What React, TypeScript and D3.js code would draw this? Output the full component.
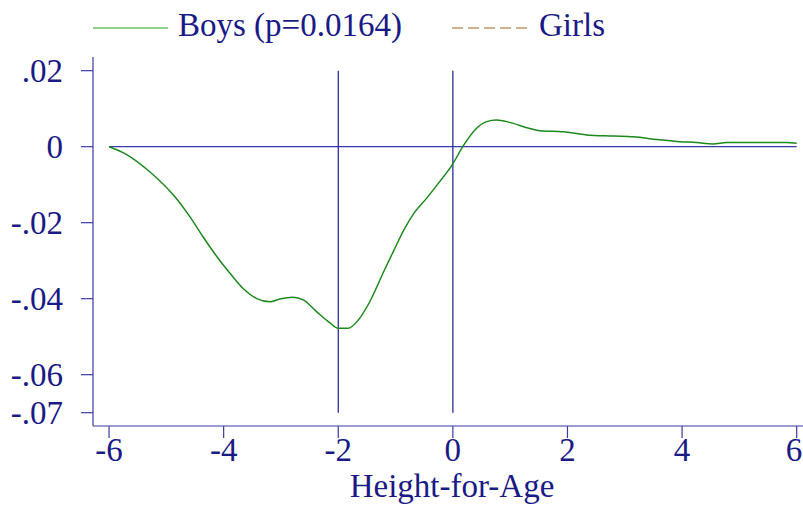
import React from "react";
import * as d3 from "d3";

// Height-for-age z-score (x) vs. estimated difference (y) for boys
const boysX = [
  -6.0, -5.7, -5.29, -4.85, -4.59, -4.36, -4.12, -3.89, -3.66, -3.43, -3.19, -3.02,
  -2.79, -2.61, -2.38, -2.15, -2.0, -1.83, -1.65, -1.45, -1.22, -1.04, -0.84, -0.66,
  -0.46, -0.23, -0.02, 0.18, 0.41, 0.59, 0.76, 0.99, 1.29, 1.52, 1.93, 2.33, 2.8,
  3.15, 3.56, 3.96, 4.25, 4.54, 4.78, 5.3, 5.82, 6.0,
];
const boysY = [
  0.0, -0.002, -0.0066, -0.0132, -0.0184, -0.0237, -0.0289, -0.0333, -0.0373, -0.0399,
  -0.0408, -0.0401, -0.0396, -0.0403, -0.0434, -0.0463, -0.0478, -0.0478, -0.0456,
  -0.0408, -0.0333, -0.0276, -0.0215, -0.0171, -0.0136, -0.0092, -0.005, 0.0002,
  0.0048, 0.0066, 0.007, 0.0064, 0.005, 0.0042, 0.0039, 0.0031, 0.0028, 0.0026,
  0.0019, 0.0013, 0.0011, 0.0007, 0.0011, 0.0011, 0.0011, 0.0009,
];

const xTicks = [-6, -4, -2, 0, 2, 4, 6];
const yTicks = [0.02, 0, -0.02, -0.04, -0.06, -0.07];
const yTickLabels = [".02", "0", "-.02", "-.04", "-.06", "-.07"];
const refLinesX = [-2, 0];
const legendLabels = ["Boys (p=0.0164)", "Girls"];

const W = 803;
const H = 507;
const TEXT = "#1a1a86";
const AXIS = "#3a3aa8";
const REF = "#1c1c96";
const GREEN = "#1b8a1b";
const FONT = "'Liberation Serif', 'DejaVu Serif', serif";

export default function App() {
  const x = d3.scaleLinear().domain([-6.28, 6.11]).range([93, 803]);
  const y = d3.scaleLinear().domain([0.0236, -0.0735]).range([57, 426]);

  const pts: [number, number][] = boysX.map((v, i) => [v, boysY[i]]);
  const line = d3
    .line<[number, number]>()
    .x((d) => x(d[0]))
    .y((d) => y(d[1]))
    .curve(d3.curveMonotoneX);

  const x0 = x.range()[0];
  const yBottom = y.range()[1];

  return (
    <svg
      width={W}
      height={H}
      style={{ position: "absolute", left: 0, top: 0, background: "#fff" }}
      fontFamily={FONT}
    >
      {/* legend */}
      <g>
        <line x1={93} x2={168} y1={28} y2={28} stroke="#66c266" strokeWidth={1.5} />
        <text x={178} y={36} fontSize={33} fill={TEXT}>
          {legendLabels[0]}
        </text>
        <line
          x1={452}
          x2={530}
          y1={28}
          y2={28}
          stroke="#c49a6c"
          strokeWidth={1.5}
          strokeDasharray="11,5"
        />
        <text x={539} y={36} fontSize={33} fill={TEXT}>
          {legendLabels[1]}
        </text>
      </g>

      {/* axes */}
      <line x1={x0} x2={x0} y1={57} y2={yBottom} stroke={AXIS} strokeWidth={1.2} />
      <line x1={x0} x2={W} y1={yBottom} y2={yBottom} stroke={AXIS} strokeWidth={1.2} />

      {yTicks.map((t, i) => (
        <g key={"y" + i}>
          <line x1={x0 - 12} x2={x0} y1={y(t)} y2={y(t)} stroke={AXIS} strokeWidth={1.2} />
          <text
            x={63}
            y={y(t)}
            dy="0.34em"
            textAnchor="end"
            fontSize={33}
            fill={TEXT}
          >
            {yTickLabels[i]}
          </text>
        </g>
      ))}

      {xTicks.map((t) => (
        <g key={"x" + t}>
          <line x1={x(t)} x2={x(t)} y1={yBottom} y2={yBottom + 12} stroke={AXIS} strokeWidth={1.2} />
          <text
            x={t === 6 ? Math.min(x(t), W - 9) : x(t)}
            y={461}
            textAnchor="middle"
            fontSize={33}
            fill={TEXT}
          >
            {t < 0 ? "-" + Math.abs(t) : String(t)}
          </text>
        </g>
      ))}

      <text x={452} y={497} textAnchor="middle" fontSize={33} fill={TEXT}>
        Height-for-Age
      </text>

      {/* reference lines */}
      <line x1={x(-6)} x2={x(6)} y1={y(0)} y2={y(0)} stroke={AXIS} strokeWidth={1.2} />
      {refLinesX.map((v) => (
        <line
          key={"r" + v}
          x1={x(v)}
          x2={x(v)}
          y1={y(0.02)}
          y2={y(-0.07)}
          stroke={REF}
          strokeWidth={1.2}
        />
      ))}

      {/* boys curve */}
      <path d={line(pts) || ""} fill="none" stroke={GREEN} strokeWidth={1.5} />
    </svg>
  );
}
